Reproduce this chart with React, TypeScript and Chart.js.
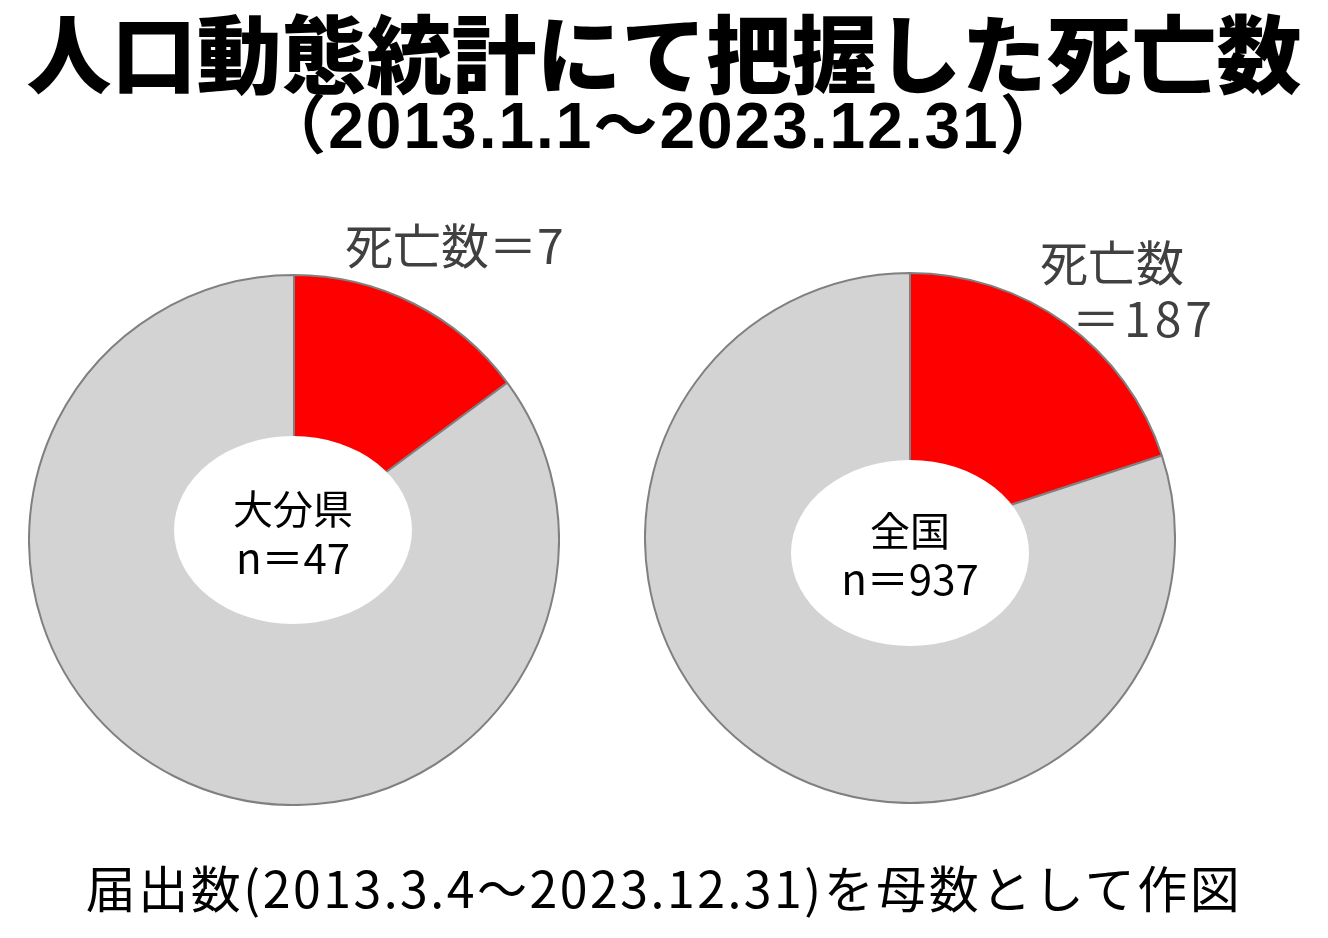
import React, { useEffect, useRef } from "react";
import { Chart, registerables } from "chart.js";

Chart.register(...registerables);

// ---- data ----
const categories = ["死亡", "生存"];
const oitaValues = [7, 40];
const nationalValues = [187, 750];
const oitaLabel = "大分県";
const nationalLabel = "全国";
const oitaN = 47;
const nationalN = 937;
const sliceColors = ["#FF0000", "#D3D3D3"];

const ellipseHole = {
  id: "ellipseHole",
  afterDatasetsDraw(chart: any, _args: any, opts: any) {
    const arc = chart.getDatasetMeta(0).data[0];
    if (!arc) return;
    const ctx = chart.ctx;
    ctx.save();
    ctx.fillStyle = "#FFFFFF";
    ctx.beginPath();
    ctx.ellipse(arc.x + opts.dx, arc.y + opts.dy, opts.rx, opts.ry, 0, 0, Math.PI * 2);
    ctx.fill();
    ctx.restore();
  },
};

function Pie(props: { values: number[]; left: number; top: number; size: number; hole: any }) {
  const ref = useRef<HTMLCanvasElement | null>(null);
  useEffect(() => {
    if (!ref.current) return;
    const chart = new Chart(ref.current, {
      type: "pie",
      data: {
        labels: categories,
        datasets: [
          {
            data: props.values,
            backgroundColor: sliceColors,
            borderColor: "#808080",
            borderWidth: 2,
            hoverOffset: 0,
          },
        ],
      },
      options: {
        animation: false,
        responsive: false,
        events: [],
        layout: { padding: 0 },
        plugins: {
          legend: { display: false },
          tooltip: { enabled: false },
          ellipseHole: props.hole,
        } as any,
      },
      plugins: [ellipseHole],
    });
    return () => chart.destroy();
  }, []);
  return (
    <canvas
      ref={ref}
      width={props.size}
      height={props.size}
      style={{ position: "absolute", left: props.left, top: props.top, width: props.size, height: props.size }}
    />
  );
}

const jp = '"Noto Sans CJK JP", "Noto Sans", sans-serif';

function Txt(props: { x: number; y: number; w: number; size: number; color?: string; weight?: number; font?: string; ls?: number; align?: any; children: any }) {
  return (
    <div
      style={{
        position: "absolute",
        left: props.x,
        top: props.y,
        width: props.w,
        fontSize: props.size,
        lineHeight: 1,
        fontFamily: props.font || jp,
        fontWeight: props.weight || 400,
        color: props.color || "#000",
        textAlign: props.align || "center",
        whiteSpace: "nowrap",
        letterSpacing: props.ls || 0,
      }}
    >
      {props.children}
    </div>
  );
}

export default function App() {
  useEffect(() => {
    document.body.style.margin = "0";
  }, []);
  return (
    <div style={{ position: "absolute", left: 0, top: 0, width: 1328, height: 938, background: "#fff", overflow: "hidden" }}>
      <Txt x={0} y={7} w={1328} size={85} weight={900}>人口動態統計にて把握した死亡数</Txt>
      <Txt x={0} y={94} w={1328} size={64} weight={700} ls={2} font={'"Liberation Sans", "Noto Sans CJK JP", sans-serif'}>（2013.1.1～2023.12.31）</Txt>

      <Pie values={oitaValues} left={28} top={274} size={532} hole={{ dx: -1, dy: -10, rx: 119, ry: 94 }} />
      <Pie values={nationalValues} left={644} top={272} size={532} hole={{ dx: 0, dy: 15, rx: 119, ry: 93 }} />

      <Txt x={345} y={219} w={300} size={48} color="#404040" align="left">死亡数＝7</Txt>
      <Txt x={1040} y={236} w={250} size={48} color="#404040" align="left">死亡数</Txt>
      <Txt x={1072} y={292} w={250} size={48} color="#404040" align="left" ls={4}>＝187</Txt>

      <Txt x={193} y={487} w={200} size={40}>{oitaLabel}</Txt>
      <Txt x={193} y={535} w={200} size={42}>{"n＝" + oitaN}</Txt>
      <Txt x={810} y={509} w={200} size={40}>{nationalLabel}</Txt>
      <Txt x={810} y={556} w={200} size={42}>{"n＝" + nationalN}</Txt>

      <Txt x={0} y={861} w={1328} size={50} ls={2.5}>届出数(2013.3.4～2023.12.31)を母数として作図</Txt>
    </div>
  );
}
